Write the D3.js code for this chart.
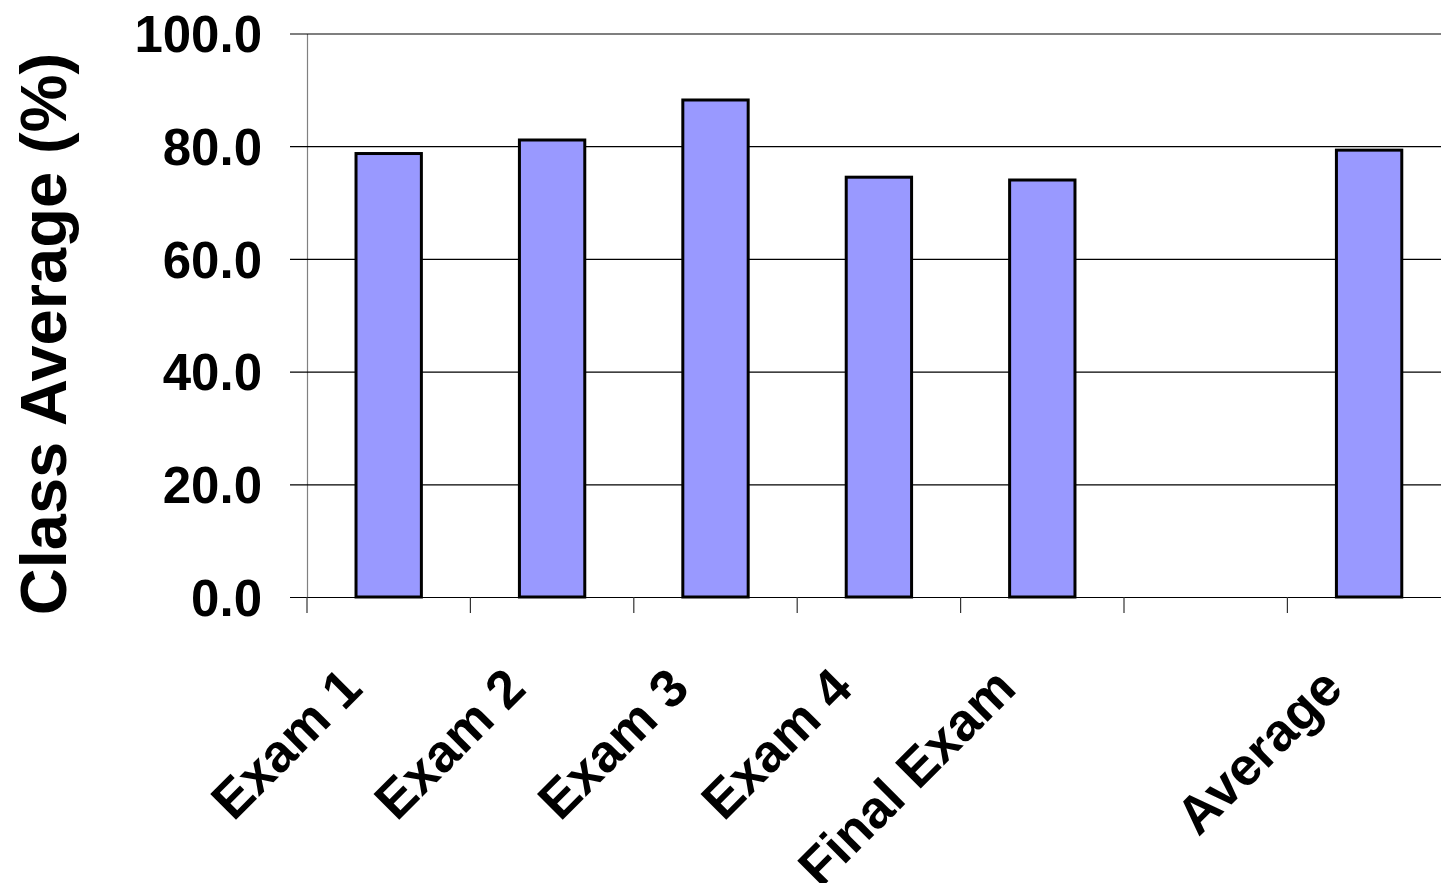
<!DOCTYPE html>
<html>
<head>
<meta charset="utf-8">
<script src="https://cdn.jsdelivr.net/npm/d3@7"></script>
<style>
  body { margin: 0; background: #fff; }
  svg { display: block; }
  text { font-family: "Liberation Sans", Arial, sans-serif; font-weight: bold; fill: #000; }
</style>
</head>
<body>
<div id="chart-area"></div>
<script>
const categories = ['Exam 1', 'Exam 2', 'Exam 3', 'Exam 4', 'Final Exam', '', 'Average'];
const averages = [78.7, 81.1, 88.2, 74.5, 74.0, null, 79.3];
const yTicks = [0, 20, 40, 60, 80, 100];

const chartSize = { width: 1441, height: 883 };
const margin = { left: 307, top: 33.5 };
const plotHeight = 563.5;
const step = 163.4;

const svg = d3.select('#chart-area').append('svg')
  .attr('width', chartSize.width)
  .attr('height', chartSize.height);

const g = svg.append('g')
  .attr('transform', `translate(${margin.left},${margin.top})`);

const x = d3.scaleBand()
  .domain(categories.map((c, i) => i))
  .range([0, step * categories.length])
  .paddingInner(0.6)
  .paddingOuter(0.3);

const y = d3.scaleLinear()
  .domain([0, 100])
  .range([plotHeight, 0]);

// y axis with gridlines
const yAxis = d3.axisLeft(y)
  .tickValues(yTicks)
  .tickFormat(d3.format('.1f'))
  .tickSizeInner(-(chartSize.width - margin.left))
  .tickSizeOuter(0)
  .tickPadding(45);

const yG = g.append('g').attr('class', 'y axis').call(yAxis);
yG.select('.domain').attr('stroke', '#808080').attr('stroke-width', 1.2);
yG.selectAll('.tick line')
  .attr('x1', -17)
  .attr('stroke', '#000')
  .attr('stroke-width', 1.2);
yG.selectAll('.tick text')
  .attr('font-size', 51)
  .attr('dy', '0.36em');

// x axis ticks between categories
const xG = g.append('g').attr('class', 'x axis');
xG.selectAll('line.xtick')
  .data(d3.range(categories.length + 1))
  .enter()
  .append('line')
  .attr('class', 'xtick')
  .attr('x1', i => x.range()[0] + i * x.step())
  .attr('x2', i => x.range()[0] + i * x.step())
  .attr('y1', plotHeight)
  .attr('y2', plotHeight + 16)
  .attr('stroke', '#333')
  .attr('stroke-width', 1.2);

xG.selectAll('text.xlabel')
  .data(categories)
  .enter()
  .append('text')
  .attr('class', 'xlabel')
  .attr('text-anchor', 'end')
  .attr('font-size', 53)
  .attr('transform', (c, i) => `translate(${x(i) + x.bandwidth() / 2 - 24},${plotHeight + 94}) rotate(-45)`)
  .text(c => c);

// bars
g.append('g').attr('class', 'bars')
  .selectAll('rect')
  .data(averages.map((v, i) => ({ v, i })).filter(d => d.v != null))
  .enter()
  .append('rect')
  .attr('x', d => x(d.i))
  .attr('y', d => y(d.v))
  .attr('width', x.bandwidth())
  .attr('height', d => y(0) - y(d.v))
  .attr('fill', '#9999FF')
  .attr('stroke', '#000')
  .attr('stroke-width', 3);

// y axis title
svg.append('text')
  .attr('text-anchor', 'middle')
  .attr('font-size', 65)
  .attr('transform', `translate(66,334) rotate(-90)`)
  .text('Class Average (%)');
</script>
</body>
</html>
